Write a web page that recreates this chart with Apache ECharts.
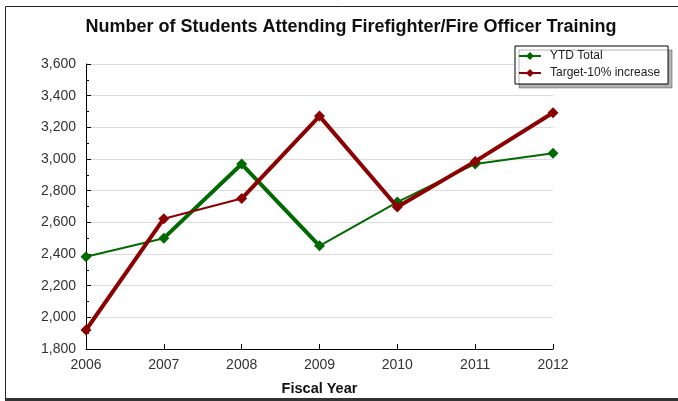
<!DOCTYPE html>
<html>
<head>
<meta charset="utf-8">
<script src="https://cdn.jsdelivr.net/npm/echarts@6/dist/echarts.min.js"></script>
<style>html,body{margin:0;padding:0;background:#fff}#c{width:678px;height:401px}</style>
</head>
<body>
<div id="c"></div>
<script>
var years = ['2006', '2007', '2008', '2009', '2010', '2011', '2012'];
var ytdTotal = [2383, 2500, 2968, 2452, 2728, 2969, 3037];
var target = [1920, 2623, 2750, 3271, 2697, 2985, 3292];
// segments drawn thicker in the reference (index ranges)
var ytdThick = [[1, 3]];
var targetThick = [[0, 1], [2, 6]];

var GREEN = '#006a00', RED = '#8b0000';
var FONT = 'Liberation Sans, Arial, sans-serif';

function seg(values, a, b) {
  return values.map(function (v, i) { return (i >= a && i <= b) ? v : null; });
}

var series = [{
  name: 'YTD Total', type: 'line', data: ytdTotal, z: 3,
  lineStyle: { color: GREEN, width: 2 }, itemStyle: { color: GREEN },
  symbol: 'diamond', symbolSize: 11, animation: false
}];
ytdThick.forEach(function (r, k) {
  series.push({ name: 'ytd_thick' + k, type: 'line', data: seg(ytdTotal, r[0], r[1]), z: 3,
    symbol: 'none', lineStyle: { color: GREEN, width: 4 }, animation: false, silent: true });
});
series.push({
  name: 'Target-10% increase', type: 'line', data: target, z: 4,
  lineStyle: { color: RED, width: 2 }, itemStyle: { color: RED },
  symbol: 'diamond', symbolSize: 11, animation: false
});
targetThick.forEach(function (r, k) {
  series.push({ name: 'tgt_thick' + k, type: 'line', data: seg(target, r[0], r[1]), z: 4,
    symbol: 'none', lineStyle: { color: RED, width: 4 }, animation: false, silent: true });
});

var chart = echarts.init(document.getElementById('c'), null, { renderer: 'canvas' });
chart.setOption({
  animation: false,
  backgroundColor: '#fff',
  title: {
    text: 'Number of Students Attending Firefighter/Fire Officer Training',
    left: 346, top: 13, textAlign: 'center',
    textStyle: { fontFamily: FONT, fontSize: 18, fontWeight: 'bold', color: '#111' }
  },
  legend: {
    data: ['YTD Total', 'Target-10% increase'],
    orient: 'vertical', left: 515, top: 46,
    itemWidth: 22, itemHeight: 10, itemGap: 5,
    padding: [4, 8, 5, 3],
    backgroundColor: '#fff', borderColor: '#000', borderWidth: 1,
    shadowColor: 'rgba(0,0,0,0.3)', shadowBlur: 0, shadowOffsetX: 4, shadowOffsetY: 4,
    textStyle: { fontFamily: FONT, fontSize: 12, color: '#222', padding: [0, 0, 0, 4] }
  },
  grid: { left: 86, right: 125, top: 64, bottom: 52 },
  xAxis: {
    type: 'category', data: years, boundaryGap: false,
    name: 'Fiscal Year', nameLocation: 'middle', nameGap: 32,
    nameTextStyle: { fontFamily: FONT, fontSize: 14.5, fontWeight: 'bold', color: '#111' },
    axisLine: { lineStyle: { color: '#000', width: 1 } },
    axisTick: { inside: true, length: 5, lineStyle: { color: '#000' } },
    axisLabel: { fontFamily: FONT, fontSize: 14, color: '#333', margin: 9 },
    splitLine: { show: false }
  },
  yAxis: {
    type: 'value', min: 1800, max: 3600, interval: 200,
    axisLine: { show: true, lineStyle: { color: '#000', width: 1 } },
    axisTick: { show: true, inside: true, length: 5, lineStyle: { color: '#000' } },
    minorTick: { show: true, splitNumber: 2, length: 3, lineStyle: { color: '#000' } },
    axisLabel: { fontFamily: FONT, fontSize: 14, color: '#333', margin: 10,
      formatter: function (v) { return v.toLocaleString('en-US'); } },
    splitLine: { show: true, lineStyle: { color: '#dcdcdc', width: 1 } }
  },
  series: series,
  graphic: [{
    type: 'rect', silent: true, z: -1,
    shape: { x: 5.5, y: 6.5, width: 690, height: 392 },
    style: { fill: 'none', stroke: '#222', lineWidth: 1 }
  }, {
    type: 'rect', silent: true, z: -1,
    shape: { x: 5, y: 398, width: 690, height: 3 },
    style: { fill: '#333' }
  }]
});
</script>
</body>
</html>
